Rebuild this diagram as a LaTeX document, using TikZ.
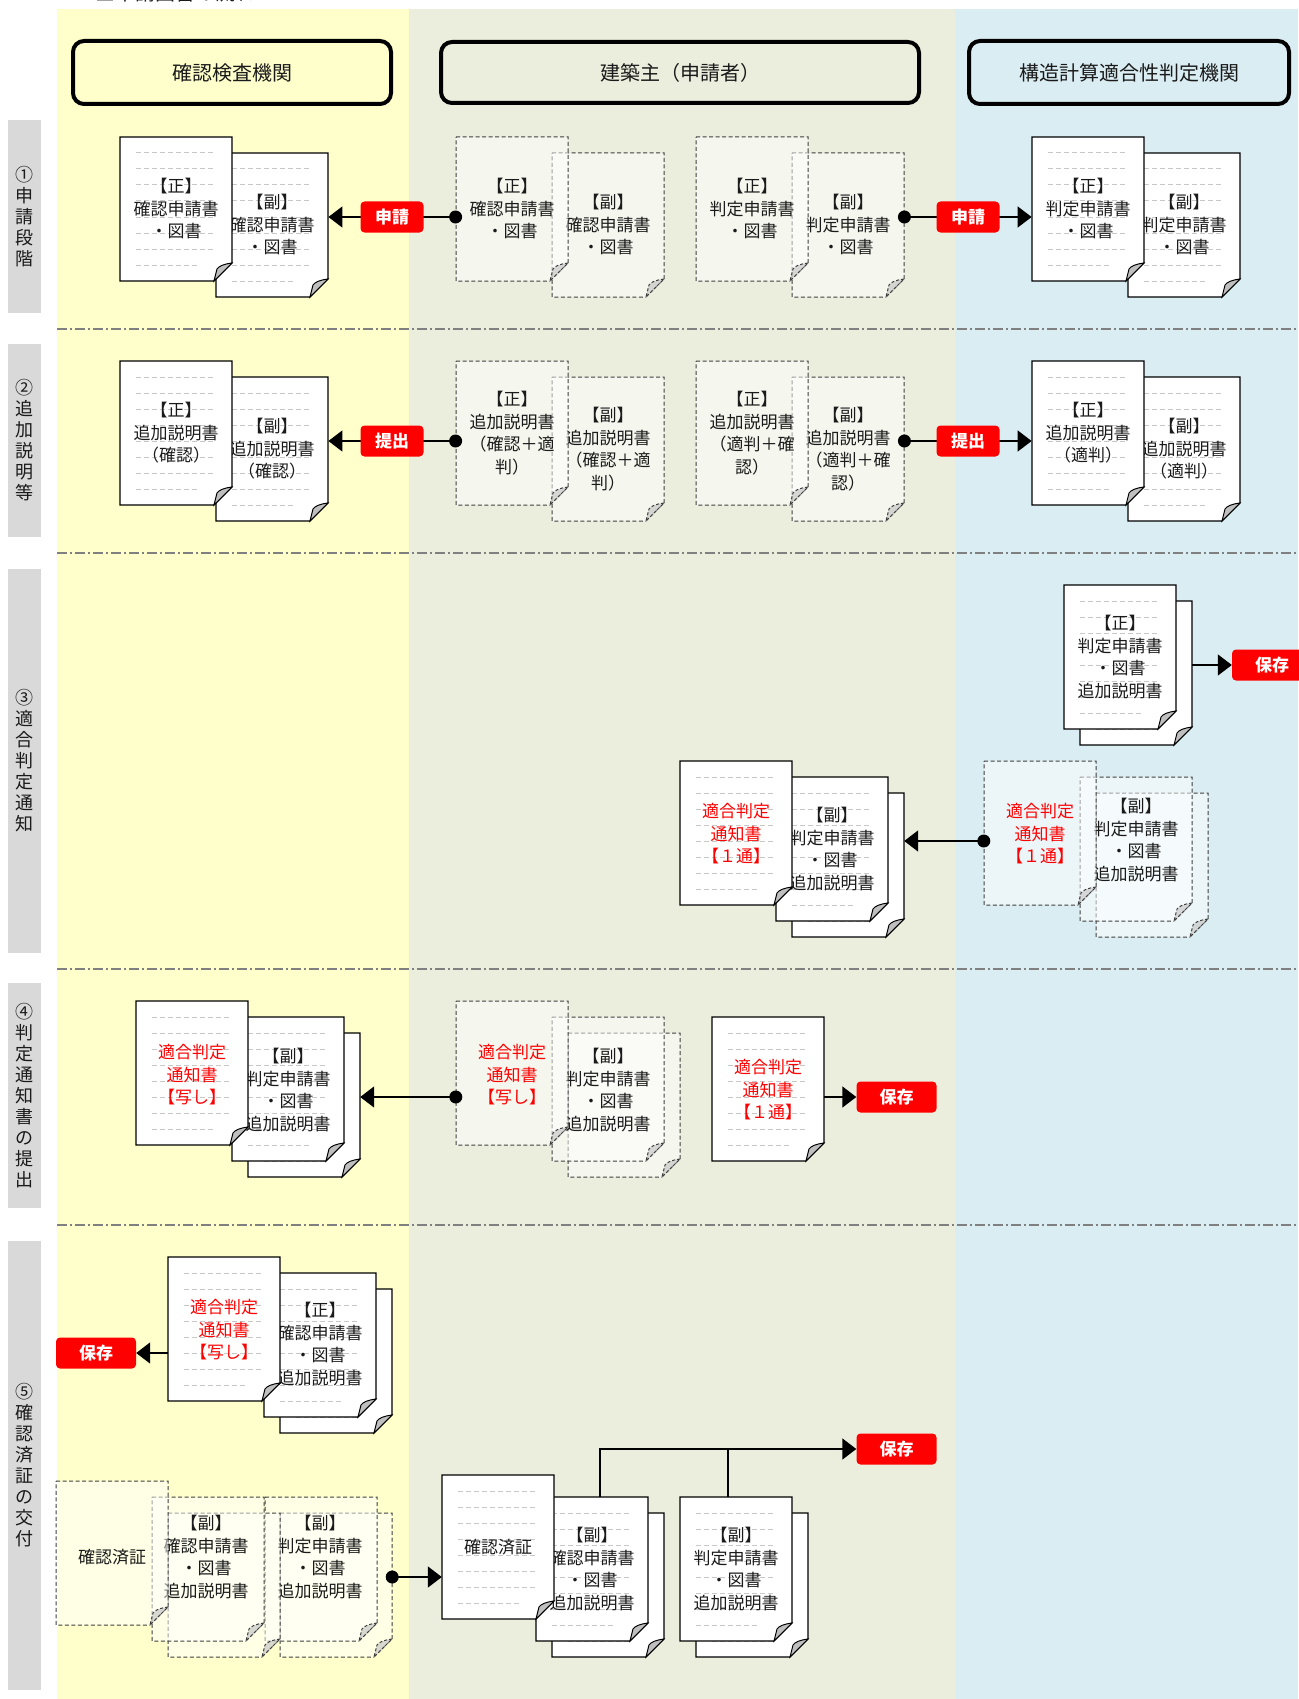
\documentclass[tikz,border=0pt]{standalone}
\usepackage{fontspec}
\setmainfont{Noto Sans CJK JP}
\usetikzlibrary{arrows.meta,fit,calc}
\definecolor{laneY}{HTML}{FFFFCC}
\definecolor{laneG}{HTML}{EBEEDD}
\definecolor{laneB}{HTML}{DAEDF3}
\definecolor{sepgrey}{HTML}{808080}
\definecolor{rowgrey}{HTML}{D9D9D9}
\definecolor{doclinec}{HTML}{C8C8C8}
\definecolor{foldgrey}{HTML}{BFBFBF}
\definecolor{txt}{HTML}{1A1A1A}
\definecolor{redlbl}{HTML}{FF0000}

\newcommand\soliddoc[3]{%
  \fill[white] (#2,#3) -- (#2+112,#3) -- (#2+112,#3+126) -- (#2+94,#3+144) -- (#2,#3+144) -- cycle;
  \foreach \k in {16,32,48,64,80,96,112}{\draw[docl] (#2+16,#3+\k) -- (#2+94,#3+\k);}
  \draw[docl] (#2+16,#3+128) -- (#2+78,#3+128);
  \draw[docedge] (#2,#3) -- (#2+112,#3) -- (#2+112,#3+126) -- (#2+94,#3+144) -- (#2,#3+144) -- cycle;
  \filldraw[foldsolid] (#2+112,#3+126) .. controls (#2+104,#3+127) and (#2+99,#3+129) .. (#2+97,#3+132) .. controls (#2+96,#3+136) and (#2+95,#3+140) .. (#2+94,#3+144) -- cycle;
  \node[docbox] (#1) at (#2+56,#3+72) {};
}
\newcommand\dashdoc[3]{%
  \path[dashedge] (#2,#3) -- (#2+112,#3) -- (#2+112,#3+126) -- (#2+94,#3+144) -- (#2,#3+144) -- cycle;
  \path[folddash] (#2+112,#3+126) .. controls (#2+104,#3+127) and (#2+99,#3+129) .. (#2+97,#3+132) .. controls (#2+96,#3+136) and (#2+95,#3+140) .. (#2+94,#3+144) -- cycle;
  \node[docbox] (#1) at (#2+56,#3+72) {};
}

\begin{document}
\begin{tikzpicture}[x=1pt,y=-1pt,
  docl/.style={draw=doclinec, line width=1pt, dash pattern=on 5pt off 3pt},
  docedge/.style={draw=black, line width=1.3pt, line join=miter},
  foldsolid/.style={fill=foldgrey, draw=black, line width=1pt},
  dashedge/.style={draw=black!75, line width=1pt, dash pattern=on 4pt off 2.5pt, fill=white, fill opacity=0.5},
  folddash/.style={draw=black!75, line width=1pt, dash pattern=on 3pt off 2pt, fill=foldgrey, fill opacity=0.6},
  docbox/.style={inner sep=0pt, minimum width=112pt, minimum height=144pt},
  stack/.style={inner sep=0pt},
  doctext/.style={font=\fontsize{17}{22.5}\selectfont, text=txt, align=center, inner sep=0pt},
  redtext/.style={doctext, text=redlbl},
  lbl/.style={fill=redlbl, rounded corners=4pt, text=white, font=\fontsize{17}{20}\selectfont\bfseries, minimum height=31pt, inner sep=0pt},
  lblA/.style={lbl, minimum width=63pt},
  lblS/.style={lbl, minimum width=80pt},
  conn/.style={line width=1.6pt, draw=black},
  arr/.style={conn, -{Triangle[length=14pt,width=21pt]}},
  dotn/.style={circle, fill=black, inner sep=0pt, minimum size=13pt},
  header/.style={draw=black, line width=4pt, rounded corners=11pt, font=\fontsize{20}{24}\selectfont, text=txt, inner sep=0pt},
  rowlab/.style={fill=rowgrey, font=\fontsize{18}{21}\selectfont, text=txt, align=center, inner sep=0pt, minimum width=33pt},
  sep/.style={draw=sepgrey, line width=1.3pt, dash pattern=on 10pt off 3pt on 2pt off 3pt}
]
\useasboundingbox (0,0) rectangle (1298,1699);
\fill[white] (0,0) rectangle (1298,1699);

% lanes
\fill[laneY] (57,9) rectangle (409,1699);
\fill[laneG] (409,9) rectangle (955,1699);
\fill[laneB] (955,9) rectangle (1298,1699);

% separators
\draw[sep] (57,329) -- (1298,329);
\draw[sep] (57,553) -- (1298,553);
\draw[sep] (57,969) -- (1298,969);
\draw[sep] (57,1225) -- (1298,1225);

% title (cut off at the top)
\node[anchor=base west, font=\fontsize{20}{24}\selectfont, text=txt, inner sep=0pt] (title) at (95,1) {■申請図書の流れ};

% row labels
\node[rowlab, minimum height=193pt] (r1) at (24.5,216.5) {①\\申\\請\\段\\階};
\node[rowlab, minimum height=193pt] (r2) at (24.5,440.5) {②\\追\\加\\説\\明\\等};
\node[rowlab, minimum height=384pt] (r3) at (24.5,761) {③\\適\\合\\判\\定\\通\\知};
\node[rowlab, minimum height=225pt] (r4) at (24.5,1095.5) {④\\判\\定\\通\\知\\書\\の\\提\\出};
\node[rowlab, minimum height=449pt] (r5) at (24.5,1465.5) {⑤\\確\\認\\済\\証\\の\\交\\付};

% headers
\node[header, fill=laneY, minimum width=318pt, minimum height=63pt] (h1) at (232,72.5) {確認検査機関};
\node[header, fill=laneG, minimum width=478pt, minimum height=61pt] (h2) at (680,72.5) {建築主（申請者）};
\node[header, fill=laneB, minimum width=320pt, minimum height=63pt] (h3) at (1129,72.5) {構造計算適合性判定機関};

% ---------------- Row 1 ----------------
\soliddoc{A2}{216}{153}
\node[doctext] (tA2) at (272,225) {【副】\\確認申請書\\・図書};
\soliddoc{A1}{120}{137}
\node[doctext] (tA1) at (176,209) {【正】\\確認申請書\\・図書};
\dashdoc{B2}{552}{153}
\node[doctext] (tB2) at (608,225) {【副】\\確認申請書\\・図書};
\dashdoc{B1}{456}{137}
\node[doctext] (tB1) at (512,209) {【正】\\確認申請書\\・図書};
\dashdoc{B4}{792}{153}
\node[doctext] (tB4) at (848,225) {【副】\\判定申請書\\・図書};
\dashdoc{B3}{696}{137}
\node[doctext] (tB3) at (752,209) {【正】\\判定申請書\\・図書};
\soliddoc{C2}{1128}{153}
\node[doctext] (tC2) at (1184,225) {【副】\\判定申請書\\・図書};
\soliddoc{C1}{1032}{137}
\node[doctext] (tC1) at (1088,209) {【正】\\判定申請書\\・図書};

\node[stack, fit=(A1)(A2)] (sA) {};
\node[stack, fit=(B1)(B2)] (sB) {};
\node[stack, fit=(B3)(B4)] (sB2) {};
\node[stack, fit=(C1)(C2)] (sC) {};

\node[dotn] (d1) at (sB.west) {};
\draw[arr] (d1.center) -- (sA.east);
\node[lblA] (l1) at ($(sA.east)!0.5!(d1)$) {申請};
\node[dotn] (d2) at (sB2.east) {};
\draw[arr] (d2.center) -- (sC.west);
\node[lblA] (l2) at ($(d2)!0.5!(sC.west)$) {申請};

% ---------------- Row 2 ----------------
\soliddoc{P2}{216}{377}
\node[doctext] (tP2) at (272,449) {【副】\\追加説明書\\（確認）};
\soliddoc{P1}{120}{361}
\node[doctext] (tP1) at (176,433) {【正】\\追加説明書\\（確認）};
\dashdoc{Q2}{552}{377}
\node[doctext] (tQ2) at (608,449) {【副】\\追加説明書\\（確認＋適\\判）};
\dashdoc{Q1}{456}{361}
\node[doctext] (tQ1) at (512,433) {【正】\\追加説明書\\（確認＋適\\判）};
\dashdoc{Q4}{792}{377}
\node[doctext] (tQ4) at (848,449) {【副】\\追加説明書\\（適判＋確\\認）};
\dashdoc{Q3}{696}{361}
\node[doctext] (tQ3) at (752,433) {【正】\\追加説明書\\（適判＋確\\認）};
\soliddoc{R2}{1128}{377}
\node[doctext] (tR2) at (1184,449) {【副】\\追加説明書\\（適判）};
\soliddoc{R1}{1032}{361}
\node[doctext] (tR1) at (1088,433) {【正】\\追加説明書\\（適判）};

\node[stack, fit=(P1)(P2)] (sP) {};
\node[stack, fit=(Q1)(Q2)] (sQ) {};
\node[stack, fit=(Q3)(Q4)] (sQ2) {};
\node[stack, fit=(R1)(R2)] (sR) {};

\node[dotn] (d3) at (sQ.west) {};
\draw[arr] (d3.center) -- (sP.east);
\node[lblA] (l3) at ($(sP.east)!0.5!(d3)$) {提出};
\node[dotn] (d4) at (sQ2.east) {};
\draw[arr] (d4.center) -- (sR.west);
\node[lblA] (l4) at ($(d4)!0.5!(sR.west)$) {提出};

% ---------------- Row 3 ----------------
\soliddoc{D2}{1080}{601}
\soliddoc{D1}{1064}{585}
\node[doctext] (tD1) at (1120,657) {【正】\\判定申請書\\・図書\\追加説明書};
\node[stack, fit=(D1)(D2)] (sD) {};
\node[lblS] (s3) at (1272,665) {保存};
\draw[arr] (sD.east) -- (s3.west);

\soliddoc{E3}{792}{793}
\soliddoc{E2}{776}{777}
\node[doctext] (tE2) at (832,849) {【副】\\判定申請書\\・図書\\追加説明書};
\soliddoc{E1}{680}{761}
\node[redtext] (tE1) at (736,834) {適合判定\\通知書\\【１通】};

\dashdoc{F3}{1096}{793}
\dashdoc{F2}{1080}{777}
\node[doctext] (tF2) at (1136,840) {【副】\\判定申請書\\・図書\\追加説明書};
\dashdoc{F1}{984}{761}
\node[redtext] (tF1) at (1040,834) {適合判定\\通知書\\【１通】};

\coordinate (y3) at (0,841);
\node[dotn] (dF) at (F1.west |- y3) {};
\draw[arr] (dF.center) -- (E3.east |- dF);

% ---------------- Row 4 ----------------
\soliddoc{G3}{248}{1033}
\soliddoc{G2}{232}{1017}
\node[doctext] (tG2) at (288,1090) {【副】\\判定申請書\\・図書\\追加説明書};
\soliddoc{G1}{136}{1001}
\node[redtext] (tG1) at (192,1075) {適合判定\\通知書\\【写し】};

\dashdoc{I3}{568}{1033}
\dashdoc{I2}{552}{1017}
\node[doctext] (tI2) at (608,1090) {【副】\\判定申請書\\・図書\\追加説明書};
\dashdoc{I1}{456}{1001}
\node[redtext] (tI1) at (512,1075) {適合判定\\通知書\\【写し】};

\coordinate (y4) at (0,1097);
\node[dotn] (dI) at (I1.west |- y4) {};
\draw[arr] (dI.center) -- (G3.east |- dI);

\soliddoc{H}{712}{1017}
\node[redtext] (tH) at (768,1090) {適合判定\\通知書\\【１通】};
\node[lblS] (s4) at (896.5,1097) {保存};
\draw[arr] (H.east |- s4) -- (s4.west);

% ---------------- Row 5 ----------------
\soliddoc{J3}{280}{1289}
\soliddoc{J2}{264}{1273}
\node[doctext] (tJ2) at (320,1344) {【正】\\確認申請書\\・図書\\追加説明書};
\soliddoc{J1}{168}{1257}
\node[redtext] (tJ1) at (224,1330) {適合判定\\通知書\\【写し】};
\node[lblS] (s5a) at (96,1353) {保存};
\draw[arr] (J1.west |- s5a) -- (s5a.east);

\dashdoc{K5}{280}{1513}
\dashdoc{K4}{265}{1497}
\node[doctext] (tK4) at (320,1557) {【副】\\判定申請書\\・図書\\追加説明書};
\dashdoc{K3}{168}{1513}
\dashdoc{K2}{152}{1497}
\node[doctext] (tK2) at (206,1557) {【副】\\確認申請書\\・図書\\追加説明書};
\dashdoc{K1}{56}{1481}
\node[doctext] (tK1) at (112,1557) {確認済証};

\soliddoc{L5}{696}{1513}
\soliddoc{L4}{680}{1497}
\node[doctext] (tL4) at (736,1569) {【副】\\判定申請書\\・図書\\追加説明書};
\soliddoc{L3}{552}{1513}
\soliddoc{L2}{536}{1497}
\node[doctext] (tL2) at (592,1569) {【副】\\確認申請書\\・図書\\追加説明書};
\soliddoc{L1}{442}{1475}
\node[doctext] (tL1) at (498,1547) {確認済証};

\coordinate (y5) at (0,1577);
\node[dotn] (dK) at (K5.east |- y5) {};
\draw[arr] (dK.center) -- (L1.west |- dK);

\node[lblS] (s5b) at (896.5,1449) {保存};
\coordinate (c1) at (600,0);
\coordinate (c2) at (728,0);
\draw[arr] (L2.north -| c1) |- (s5b.west);
\draw[conn] (L4.north -| c2) -- (c2 |- s5b);
\end{tikzpicture}
\end{document}
